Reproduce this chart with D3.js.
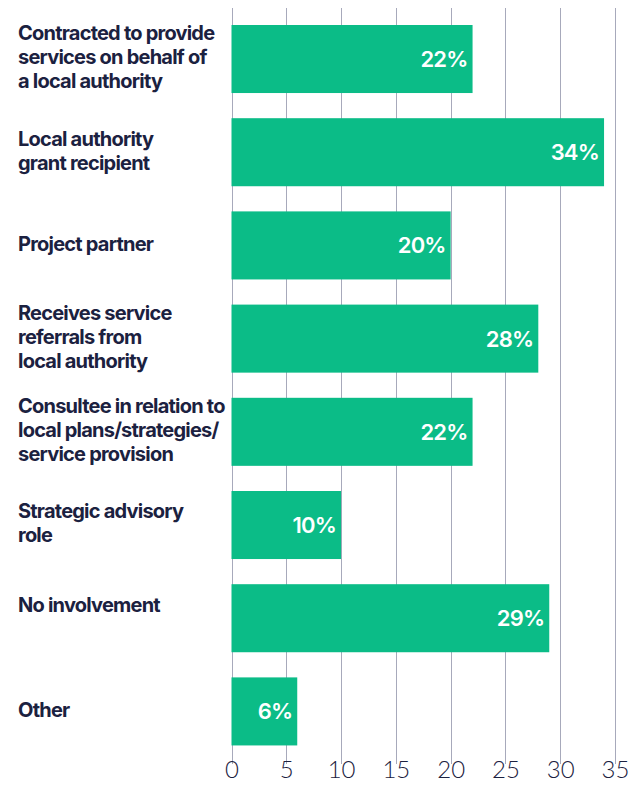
<!DOCTYPE html>
<html>
<head>
<meta charset="utf-8">
<script src="https://cdn.jsdelivr.net/npm/d3@7"></script>
<style>
  html, body { margin: 0; padding: 0; background: #ffffff; }
  svg { display: block; }
</style>
</head>
<body>
<svg id="chart" width="631" height="794"></svg>
<script>
// Category labels, split into display lines
const categoryLines = [
  ["Contracted to provide", "services on behalf of", "a local authority"],
  ["Local authority", "grant recipient"],
  ["Project partner"],
  ["Receives service", "referrals from", "local authority"],
  ["Consultee in relation to", "local plans/strategies/", "service provision"],
  ["Strategic advisory", "role"],
  ["No involvement", ""],
  ["Other"]
];
// Share of respondents (%)
const values = [22, 34, 20, 28, 22, 10, 29, 6];
// Axis ticks
const tickValues = [0, 5, 10, 15, 20, 25, 30, 35];

const ids = d3.range(values.length);

const svg = d3.select("#chart");
const margin = { top: 8, right: 16, bottom: 48, left: 231.5 };
const W = 631, H = 794;

const x = d3.scaleLinear().domain([0, 35]).range([margin.left, W - margin.right]);
const step = 93.2;
const y = d3.scaleBand().domain(ids)
  .range([25 - 0.135 * step, 25 - 0.135 * step + step * 8])
  .paddingInner(0.27).paddingOuter(0.135);

const ink = "#1b2140";

// Vertical gridlines
svg.append("g")
  .selectAll("line")
  .data(tickValues)
  .join("line")
  .attr("x1", d => Math.round(x(d)) + 0.5)
  .attr("x2", d => Math.round(x(d)) + 0.5)
  .attr("y1", margin.top)
  .attr("y2", H - margin.bottom + 18)
  .attr("stroke", "#a7a9bb")
  .attr("stroke-width", 1);

// Tick labels
const axis = d3.axisBottom(x).tickValues(tickValues).tickSize(0).tickPadding(0);
const ag = svg.append("g")
  .attr("transform", `translate(0, ${H - 35})`)
  .call(axis);
ag.select(".domain").remove();
ag.selectAll("text")
  .attr("dy", "0.8em")
  .attr("font-family", "Lato, sans-serif")
  .attr("font-weight", 300)
  .attr("font-size", 24)
  .attr("fill", ink);

// Bars
svg.append("g")
  .selectAll("rect")
  .data(ids)
  .join("rect")
  .attr("x", x(0))
  .attr("y", i => y(i))
  .attr("width", i => x(values[i]) - x(0))
  .attr("height", y.bandwidth())
  .attr("fill", "#0bbc87");

// Value labels inside bar ends
svg.append("g")
  .selectAll("text")
  .data(ids)
  .join("text")
  .attr("x", i => x(values[i]) - 5)
  .attr("y", i => y(i) + y.bandwidth() / 2)
  .attr("dy", "0.36em")
  .attr("text-anchor", "end")
  .attr("font-family", "Inter, sans-serif")
  .attr("font-weight", 600)
  .attr("font-size", 22)
  .attr("letter-spacing", -0.8)
  .attr("fill", "#ffffff")
  .text(i => values[i] + "%");

// Category labels, vertically centred on each bar
const lineH = 24;
const lab = svg.append("g")
  .selectAll("text")
  .data(ids)
  .join("text")
  .attr("font-family", "Inter, sans-serif")
  .attr("font-weight", 700)
  .attr("font-size", 20)
  .attr("letter-spacing", -0.78)
  .attr("fill", ink)
  .attr("y", i => y(i) + y.bandwidth() / 2 - (categoryLines[i].length - 1) * lineH / 2)
  .attr("dy", "0.27em");

lab.selectAll("tspan")
  .data(i => categoryLines[i])
  .join("tspan")
  .attr("x", 18)
  .attr("dy", (d, j) => j === 0 ? null : lineH)
  .text(d => d);
</script>
</body>
</html>
